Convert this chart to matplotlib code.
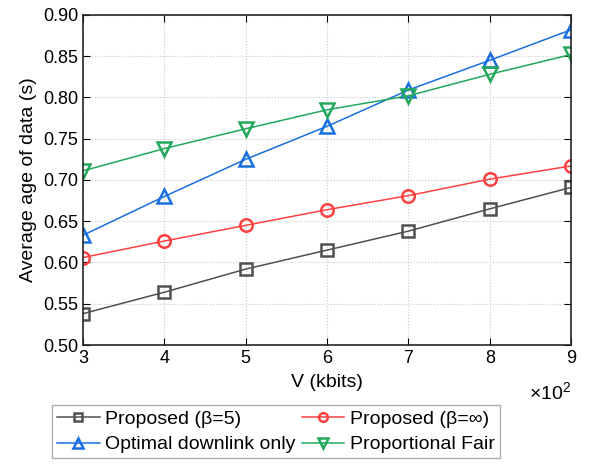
import matplotlib.pyplot as plt
import numpy as np

plt.rcParams['font.family'] = ['Liberation Sans', 'DejaVu Sans']
plt.rcParams['mathtext.fontset'] = 'custom'
plt.rcParams['mathtext.rm'] = 'Liberation Sans'

# data
V = [300, 400, 500, 600, 700, 800, 900]
proposed_b5 = [0.538, 0.564, 0.592, 0.615, 0.638, 0.665, 0.691]
proposed_inf = [0.606, 0.626, 0.645, 0.664, 0.681, 0.701, 0.717]
downlink_only = [0.633, 0.680, 0.725, 0.765, 0.809, 0.845, 0.882]
prop_fair = [0.711, 0.738, 0.762, 0.785, 0.802, 0.828, 0.852]

fig = plt.figure(figsize=(5.91, 4.65), dpi=100)
ax = fig.add_axes([0.1404, 0.258, 0.826, 0.71])

l1, = ax.plot(V, proposed_b5, color='#505050', marker='s', mfc='none', mew=1.8, ms=8, lw=1.1, label='Proposed (β=5)')
l2, = ax.plot(V, proposed_inf, color='#ff4040', marker='o', mfc='none', mew=1.8, ms=9, lw=1.1, label='Proposed (β=∞)')
l3, = ax.plot(V, downlink_only, color='#1a6fe0', marker='^', mfc='none', mew=1.8, ms=10, lw=1.1, label='Optimal downlink only')
l4, = ax.plot(V, prop_fair, color='#22a85a', marker='v', mfc='none', mew=1.8, ms=10, lw=1.1, label='Proportional Fair')

ax.set_xlim(300, 900)
ax.set_ylim(0.50, 0.90)
ax.set_xticks(V)
ax.set_yticks(np.arange(0.50, 0.901, 0.05))
ax.yaxis.set_major_formatter(plt.FormatStrFormatter('%.2f'))
# ticks shown in units of 10^2, multiplier drawn separately
ax.xaxis.set_major_formatter(plt.FuncFormatter(lambda v, p: f'{v / 100:g}'))
ax.text(1.0, -0.145, r'$\times10^2$', transform=ax.transAxes, ha='right', va='center', fontsize=14)

ax.grid(True, color='#c8c8c8', linestyle=':', linewidth=0.8)
ax.tick_params(direction='in', top=True, right=True, labelsize=13, length=5, width=0.8)
for s in ax.spines.values():
    s.set_linewidth(1.2)
    s.set_color('#262626')

ax.set_xlabel('V (kbits)', fontsize=14, labelpad=5)
ax.set_ylabel('Average age of data (s)', fontsize=14, labelpad=4)

# row-wise order like the original
fig.legend([l1, l3, l2, l4], [l1.get_label(), l3.get_label(), l2.get_label(), l4.get_label()],
           loc='upper left', bbox_to_anchor=(0.088, 0.128), ncol=2, fontsize=14,
           frameon=True, fancybox=False, edgecolor='#999999', handlelength=2.2,
           columnspacing=0.3, handletextpad=0.3, borderpad=0.25, labelspacing=0.4,
           borderaxespad=0, markerscale=0.7)

fig.savefig('out.png', dpi=100)
